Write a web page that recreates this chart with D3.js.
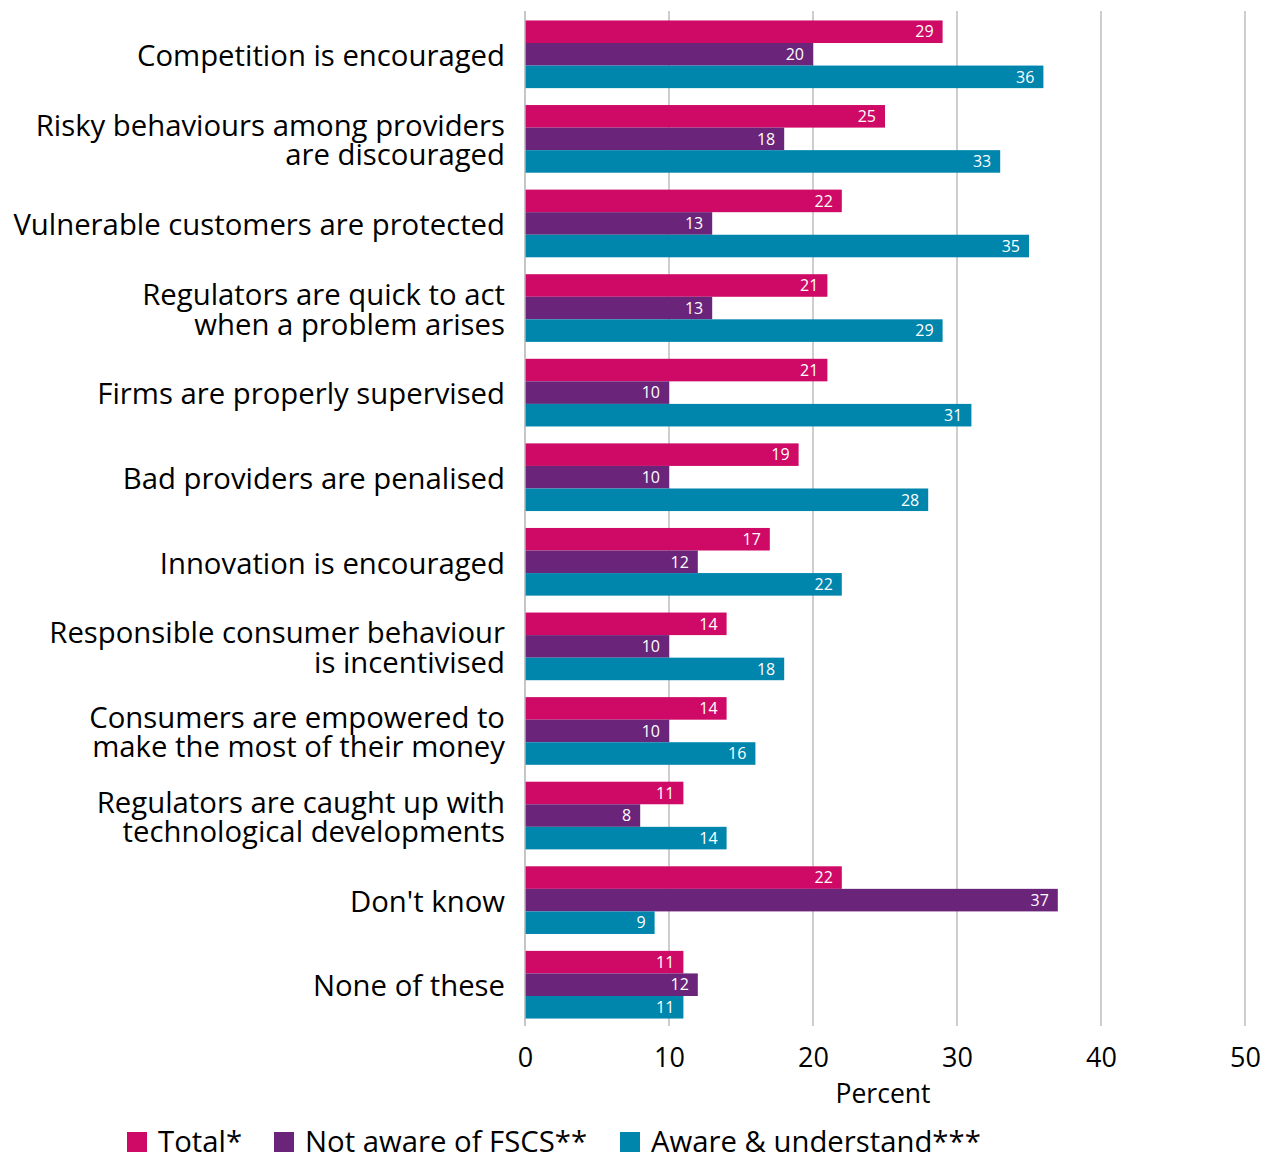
<!DOCTYPE html>
<html>
<head>
<meta charset="utf-8">
<script src="https://cdn.jsdelivr.net/npm/d3@7"></script>
<style>
  html, body { margin: 0; padding: 0; background: #fff; }
  svg { display: block; font-family: "Open Sans", "Noto Sans", sans-serif; }
</style>
</head>
<body>
<svg id="chart" width="1278" height="1154"></svg>
<script>
// Category labels (line breaks with "|")
const categories = [
  "Competition is encouraged",
  "Risky behaviours among providers|are discouraged",
  "Vulnerable customers are protected",
  "Regulators are quick to act|when a problem arises",
  "Firms are properly supervised",
  "Bad providers are penalised",
  "Innovation is encouraged",
  "Responsible consumer behaviour|is incentivised",
  "Consumers are empowered to|make the most of their money",
  "Regulators are caught up with|technological developments",
  "Don't know",
  "None of these"
];

const seriesNames = ["Total*", "Not aware of FSCS**", "Aware & understand***"];
const seriesColors = ["#ce0a66", "#6a2479", "#0085ad"];

const totalValues     = [29, 25, 22, 21, 21, 19, 17, 14, 14, 11, 22, 11];
const notAwareValues  = [20, 18, 13, 13, 10, 10, 12, 10, 10,  8, 37, 12];
const awareValues     = [36, 33, 35, 29, 31, 28, 22, 18, 16, 14,  9, 11];

const xTicks = [0, 10, 20, 30, 40, 50];

const seriesValues = [totalValues, notAwareValues, awareValues];

const svg = d3.select("#chart");
const plotLeft = 525, plotRight = 1245, plotTop = 12, plotBottom = 1027;

const x = d3.scaleLinear().domain([0, 50]).range([plotLeft, plotRight]);
const y0 = d3.scaleBand().domain(d3.range(categories.length))
  .range([plotTop, plotBottom]).paddingInner(0.2).paddingOuter(0.1);
const y1 = d3.scaleBand().domain(d3.range(seriesNames.length))
  .range([0, y0.bandwidth()]);

// Vertical gridlines
svg.append("g").selectAll("line").data(xTicks.slice(1)).join("line")
  .attr("x1", d => x(d)).attr("x2", d => x(d))
  .attr("y1", 11).attr("y2", 1026)
  .attr("stroke", "#b3b3b3").attr("stroke-width", 1.3);

// Bars with value labels
const groups = svg.append("g").selectAll("g").data(categories).join("g")
  .attr("transform", (d, i) => `translate(0,${y0(i)})`);

groups.each(function(cat, i) {
  const g = d3.select(this);
  seriesValues.forEach((vals, s) => {
    const v = vals[i];
    g.append("rect")
      .attr("x", x(0)).attr("y", y1(s))
      .attr("width", x(v) - x(0)).attr("height", y1.bandwidth())
      .attr("fill", seriesColors[s]);
    g.append("text")
      .attr("x", x(v) - 9).attr("y", y1(s) + y1.bandwidth() / 2)
      .attr("dy", "0.36em").attr("text-anchor", "end")
      .attr("fill", "#fff").attr("font-size", 16)
      .text(v);
  });
});

// Zero axis line
svg.append("line")
  .attr("x1", x(0)).attr("x2", x(0)).attr("y1", 11).attr("y2", 1026)
  .attr("stroke", "#b3b3b3").attr("stroke-width", 1.5);

// Category labels
categories.forEach((c, i) => {
  const lines = c.split("|");
  const cy = y0(i) + y0.bandwidth() / 2 + 1.5;
  const lh = 29.5;
  const t = svg.append("text")
    .attr("text-anchor", "end").attr("font-size", 29.3).attr("fill", "#000");
  lines.forEach((ln, k) => {
    t.append("tspan")
      .attr("x", 505)
      .attr("y", cy + (k - (lines.length - 1) / 2) * lh)
      .attr("dy", "0.35em")
      .text(ln);
  });
});

// X axis tick labels
const xAxis = d3.axisBottom(x).tickValues(xTicks).tickSize(0).tickPadding(0);
const ax = svg.append("g").attr("transform", `translate(0,1048)`).call(xAxis);
ax.select(".domain").remove();
ax.selectAll("text").attr("font-size", 27).attr("fill", "#000")
  .attr("font-family", "'Open Sans', sans-serif");

svg.append("text")
  .attr("x", 883).attr("y", 1103).attr("text-anchor", "middle")
  .attr("font-size", 26.5).attr("fill", "#000").text("Percent");

// Legend
const legendX = [127, 274, 620];
const legend = svg.append("g");
seriesNames.forEach((n, s) => {
  legend.append("rect")
    .attr("x", legendX[s]).attr("y", 1132).attr("width", 20).attr("height", 20)
    .attr("fill", seriesColors[s]);
  legend.append("text")
    .attr("x", legendX[s] + 31).attr("y", 1152)
    .attr("font-size", 29.3).attr("fill", "#000").text(n);
});
</script>
</body>
</html>
